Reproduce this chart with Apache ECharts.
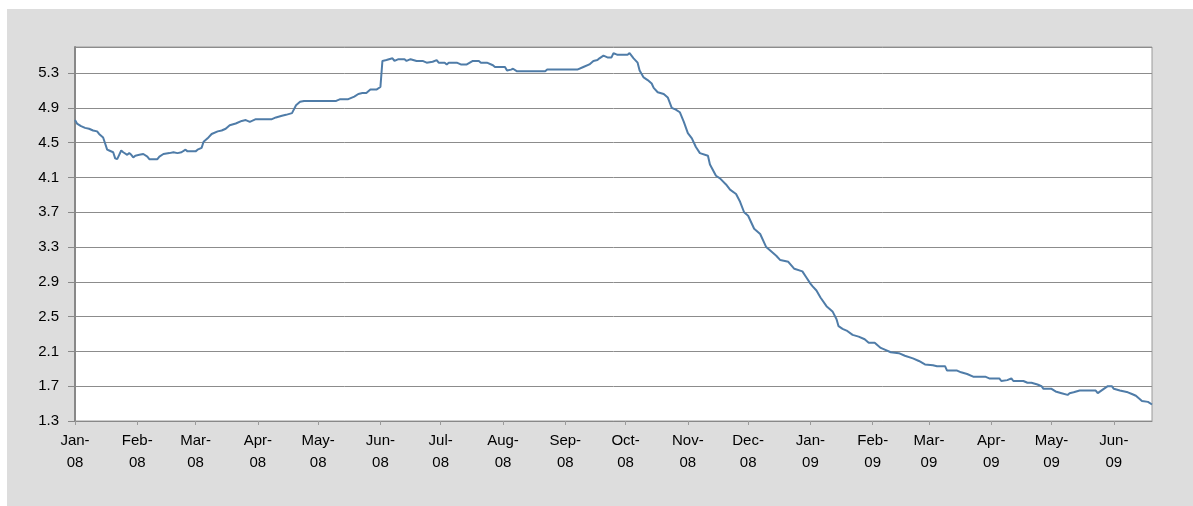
<!DOCTYPE html>
<html>
<head>
<meta charset="utf-8">
<script src="https://cdn.jsdelivr.net/npm/echarts@6/dist/echarts.min.js"></script>
<style>
	body { margin: 0; background: #ffffff; }
	#frame { position: absolute; left: 7px; top: 9px; right: 0; bottom: 0; background: #dddddd; }
	#main { position: absolute; left: 0; top: 0; width: 1193px; height: 506px; }
</style>
</head>
<body>
<div id="frame"></div>
<div id="main"></div>
<script type="text/javascript">
	// dates and values
	var dates = [
		'2008-01-01', '2008-01-02', '2008-01-04', '2008-01-06', '2008-01-08', '2008-01-10', '2008-01-12', '2008-01-13',
		'2008-01-15', '2008-01-16', '2008-01-17', '2008-01-18', '2008-01-20', '2008-01-21', '2008-01-22', '2008-01-23',
		'2008-01-24', '2008-01-25', '2008-01-27', '2008-01-28', '2008-01-29', '2008-01-30', '2008-01-31', '2008-02-02',
		'2008-02-04', '2008-02-06', '2008-02-07', '2008-02-11', '2008-02-12', '2008-02-14', '2008-02-17', '2008-02-19',
		'2008-02-21', '2008-02-23', '2008-02-25', '2008-02-26', '2008-03-01', '2008-03-02', '2008-03-04', '2008-03-05',
		'2008-03-07', '2008-03-09', '2008-03-12', '2008-03-14', '2008-03-16', '2008-03-18', '2008-03-21', '2008-03-24',
		'2008-03-26', '2008-03-28', '2008-03-31', '2008-04-08', '2008-04-10', '2008-04-13', '2008-04-15', '2008-04-18',
		'2008-04-20', '2008-04-22', '2008-04-24', '2008-05-10', '2008-05-12', '2008-05-16', '2008-05-19', '2008-05-21',
		'2008-05-23', '2008-05-25', '2008-05-27', '2008-05-30', '2008-06-01', '2008-06-02', '2008-06-04', '2008-06-07',
		'2008-06-08', '2008-06-10', '2008-06-13', '2008-06-14', '2008-06-16', '2008-06-19', '2008-06-22', '2008-06-24',
		'2008-06-27', '2008-06-29', '2008-06-30', '2008-07-03', '2008-07-04', '2008-07-05', '2008-07-09', '2008-07-11',
		'2008-07-14', '2008-07-17', '2008-07-20', '2008-07-21', '2008-07-24', '2008-07-27', '2008-07-28', '2008-08-02',
		'2008-08-03', '2008-08-05', '2008-08-06', '2008-08-08', '2008-08-22', '2008-08-23', '2008-09-07', '2008-09-10',
		'2008-09-13', '2008-09-15', '2008-09-17', '2008-09-18', '2008-09-20', '2008-09-22', '2008-09-24', '2008-09-25',
		'2008-09-27', '2008-10-02', '2008-10-03', '2008-10-05', '2008-10-07', '2008-10-08', '2008-10-10', '2008-10-12',
		'2008-10-14', '2008-10-15', '2008-10-17', '2008-10-20', '2008-10-22', '2008-10-24', '2008-10-26', '2008-10-28',
		'2008-10-30', '2008-11-01', '2008-11-03', '2008-11-05', '2008-11-07', '2008-11-11', '2008-11-12', '2008-11-15',
		'2008-11-17', '2008-11-20', '2008-11-22', '2008-11-25', '2008-11-27', '2008-11-29', '2008-12-01', '2008-12-04',
		'2008-12-07', '2008-12-10', '2008-12-13', '2008-12-15', '2008-12-17', '2008-12-21', '2008-12-24', '2008-12-28',
		'2008-12-30', '2009-01-01', '2009-01-02', '2009-01-04', '2009-01-06', '2009-01-09', '2009-01-12', '2009-01-14',
		'2009-01-15', '2009-01-17', '2009-01-19', '2009-01-22', '2009-01-25', '2009-01-28', '2009-01-30', '2009-02-02',
		'2009-02-05', '2009-02-07', '2009-02-10', '2009-02-14', '2009-02-17', '2009-02-21', '2009-02-24', '2009-02-27',
		'2009-03-03', '2009-03-05', '2009-03-09', '2009-03-10', '2009-03-15', '2009-03-17', '2009-03-20', '2009-03-23',
		'2009-03-29', '2009-03-31', '2009-04-05', '2009-04-06', '2009-04-09', '2009-04-11', '2009-04-12', '2009-04-17',
		'2009-04-19', '2009-04-21', '2009-04-24', '2009-04-26', '2009-04-27', '2009-05-01', '2009-05-03', '2009-05-06',
		'2009-05-09', '2009-05-10', '2009-05-12', '2009-05-15', '2009-05-23', '2009-05-24', '2009-05-27', '2009-05-29',
		'2009-05-31', '2009-06-01', '2009-06-04', '2009-06-08', '2009-06-10', '2009-06-12', '2009-06-15', '2009-06-18',
		'2009-06-20'
	];
	var values = [
		4.76, 4.72, 4.69, 4.67, 4.66, 4.64, 4.63, 4.60,
		4.56, 4.49, 4.42, 4.41, 4.39, 4.32, 4.31, 4.36,
		4.41, 4.39, 4.36, 4.38, 4.36, 4.33, 4.35, 4.36,
		4.37, 4.34, 4.31, 4.31, 4.34, 4.37, 4.38, 4.39,
		4.38, 4.39, 4.42, 4.40, 4.40, 4.42, 4.44, 4.51,
		4.55, 4.60, 4.63, 4.64, 4.66, 4.70, 4.72, 4.75,
		4.76, 4.74, 4.77, 4.77, 4.79, 4.81, 4.82, 4.84,
		4.93, 4.97, 4.98, 4.98, 5.00, 5.00, 5.03, 5.06,
		5.07, 5.07, 5.11, 5.11, 5.14, 5.44, 5.45, 5.47,
		5.44, 5.46, 5.46, 5.44, 5.46, 5.44, 5.44, 5.42,
		5.43, 5.45, 5.42, 5.42, 5.40, 5.42, 5.42, 5.40,
		5.40, 5.44, 5.44, 5.42, 5.42, 5.39, 5.37, 5.37,
		5.33, 5.34, 5.35, 5.32, 5.32, 5.34, 5.34, 5.37,
		5.40, 5.44, 5.45, 5.47, 5.50, 5.48, 5.48, 5.53,
		5.51, 5.51, 5.53, 5.47, 5.42, 5.33, 5.25, 5.22,
		5.18, 5.13, 5.08, 5.06, 5.02, 4.90, 4.88, 4.85,
		4.74, 4.61, 4.55, 4.45, 4.38, 4.35, 4.25, 4.12,
		4.09, 4.02, 3.96, 3.91, 3.82, 3.70, 3.66, 3.51,
		3.45, 3.30, 3.24, 3.20, 3.15, 3.13, 3.05, 3.02,
		2.95, 2.88, 2.85, 2.80, 2.72, 2.62, 2.56, 2.47,
		2.39, 2.36, 2.34, 2.29, 2.27, 2.24, 2.20, 2.20,
		2.14, 2.12, 2.09, 2.08, 2.05, 2.02, 1.99, 1.95,
		1.94, 1.93, 1.93, 1.88, 1.88, 1.86, 1.84, 1.81,
		1.81, 1.79, 1.79, 1.76, 1.77, 1.79, 1.76, 1.76,
		1.74, 1.74, 1.72, 1.70, 1.67, 1.67, 1.64, 1.62,
		1.60, 1.62, 1.63, 1.65, 1.65, 1.62, 1.67, 1.70,
		1.70, 1.67, 1.65, 1.63, 1.61, 1.59, 1.53, 1.52,
		1.49
	];

	// month ticks on the x axis
	var monthTicks = [
		'2008-01-01', '2008-02-01', '2008-03-01', '2008-04-01', '2008-05-01', '2008-06-01',
		'2008-07-01', '2008-08-01', '2008-09-01', '2008-10-01', '2008-11-01', '2008-12-01',
		'2009-01-01', '2009-02-01', '2009-03-01', '2009-04-01', '2009-05-01', '2009-06-01'
	];
	var monthLabels = [
		'Jan-\n08', 'Feb-\n08', 'Mar-\n08', 'Apr-\n08', 'May-\n08', 'Jun-\n08',
		'Jul-\n08', 'Aug-\n08', 'Sep-\n08', 'Oct-\n08', 'Nov-\n08', 'Dec-\n08',
		'Jan-\n09', 'Feb-\n09', 'Mar-\n09', 'Apr-\n09', 'May-\n09', 'Jun-\n09'
	];

	// day number counted from 1 Jan 2008
	function toDay(s) {
		var p = s.split('-');
		return Math.round((Date.UTC(+p[0], +p[1] - 1, +p[2]) - Date.UTC(2008, 0, 1)) / 86400000);
	}

	var tickDays = monthTicks.map(toDay);
	var seriesData = dates.map(function (d, i) {
		return [toDay(d), values[i]];
	});

	var myChart = echarts.init(document.getElementById('main'));

	var option = {
		backgroundColor: 'transparent',
		animation: false,
		grid: {
			left: 75,
			right: 41,
			top: 47,
			bottom: 85,
			show: true,
			backgroundColor: '#ffffff',
			borderColor: '#9a9a9a',
			borderWidth: 1
		},
		xAxis: {
			type: 'value',
			min: 0,
			max: toDay('2009-06-20'),
			axisLine: { lineStyle: { color: '#888888', width: 1 } },
			axisTick: {
				customValues: tickDays,
				length: 4,
				lineStyle: { color: '#9a9a9a' }
			},
			axisLabel: {
				customValues: tickDays,
				margin: 9,
				lineHeight: 22,
				color: '#000000',
				fontFamily: 'Liberation Sans',
				fontSize: 15,
				formatter: function (val) {
					var i = tickDays.indexOf(val);
					return i >= 0 ? monthLabels[i] : '';
				}
			},
			splitLine: { show: false }
		},
		yAxis: {
			type: 'value',
			min: 1.3,
			max: 5.6,
			interval: 0.4,
			axisLine: { show: true, lineStyle: { color: '#888888', width: 2 } },
			axisTick: { show: true, length: 7, lineStyle: { color: '#888888' } },
			axisLabel: {
				margin: 16,
				color: '#000000',
				fontFamily: 'Liberation Sans',
				fontSize: 15,
				showMaxLabel: false,
				formatter: function (val) {
					return val > 5.5 ? '' : val.toFixed(1);
				}
			},
			splitLine: { lineStyle: { color: '#8c8c8c', width: 1 } }
		},
		series: [
			{
				type: 'line',
				data: seriesData,
				showSymbol: false,
				lineStyle: { color: '#4f7ca8', width: 2 },
				itemStyle: { color: '#4f7ca8' }
			}
		]
	};
	myChart.setOption(option);
</script>
</body>
</html>
